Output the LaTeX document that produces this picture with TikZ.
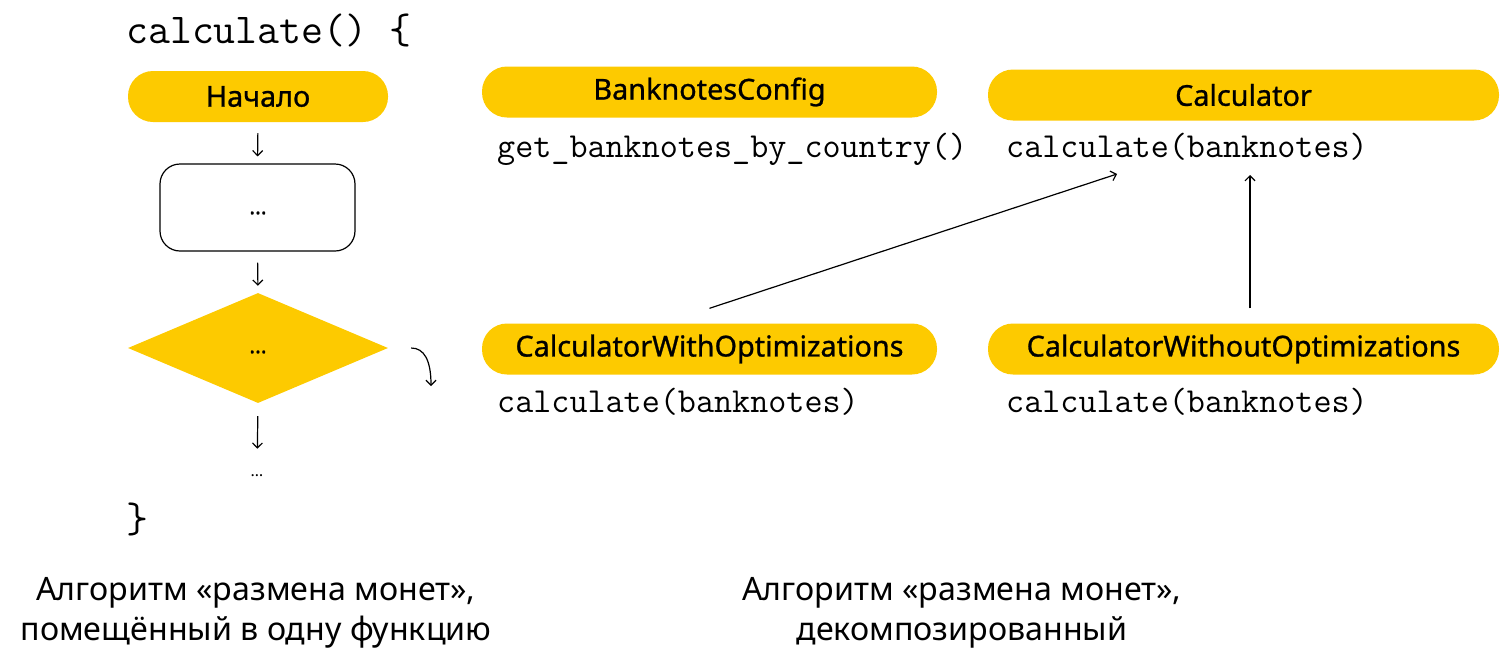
\documentclass[tikz,border=0pt]{standalone}
\usepackage{fontspec}
\setmainfont{Noto Sans}
\usetikzlibrary{shapes.geometric,arrows.meta,calc}
\definecolor{ya}{HTML}{FDCA00}
\tikzset{
  pill/.style={fill=ya, rectangle, rounded corners=25pt, minimum height=51pt, inner sep=0pt,
    font=\fontsize{28.8}{30}\selectfont\addfontfeatures{FakeBold=0.9}},
  code/.style={anchor=base west, inner sep=0pt, font=\ttfamily\fontsize{35.1}{37}\selectfont},
  arr/.style={-{Straight Barb[length=5pt,width=10pt]}, line width=1.2pt, black},
  dots/.style={inner sep=0pt, font=\fontsize{22}{24}\selectfont\addfontfeatures{FakeBold=1}},
  caption/.style={align=center, inner sep=0pt, font=\fontsize{32.2}{39.5}\selectfont}
}
\begin{document}
\begin{tikzpicture}[x=1pt,y=-1pt]
\useasboundingbox (0,0) rectangle (1500,670);
% left flowchart
\node[code, font=\ttfamily\fontsize{42.6}{45}\selectfont] (fn) at (126,43) {calculate() \{};
\node[pill, minimum width=260pt] (start) at (258,96.5) {Начало};
\node[draw, line width=1.2pt, rounded corners=20pt, minimum width=195pt, minimum height=87pt, inner sep=0pt] (box) at (257.5,207.5) {};
\node[dots] (boxdots) at (258,213) {…};
\node[diamond, fill=ya, minimum width=260pt, minimum height=110pt, inner sep=0pt] (dia) at (258,348) {};
\node[dots] (diadots) at (258,352) {…};
\node[dots, font=\fontsize{16}{18}\selectfont] (enddots) at (257,476) {…};
\node[code, font=\ttfamily\fontsize{42.6}{45}\selectfont] (close) at (126,532) {\}};
\draw[arr, shorten <=11pt, shorten >=7pt] (start.south) -- (box.north);
\draw[arr, shorten <=11pt, shorten >=7pt] (box.south) -- (dia.north);
\draw[arr, shorten <=13pt, shorten >=26pt] (dia.south) -- (enddots.north);
\coordinate (cs) at ($(dia.east)+(23,0)$);
\coordinate (ce) at (431,386);
\draw[arr] (cs) .. controls (424,348) and (431,360) .. (ce);
% right part
\node[pill, minimum width=455pt] (bc) at (709.5,92) {BanknotesConfig};
\node[code] (bccode) at (497,157) {get\_banknotes\_by\_country()};
\node[pill, minimum width=511pt] (calc) at (1243.5,95) {Calculator};
\node[code] (calccode) at (1006,157) {calculate(banknotes)};
\node[pill, minimum width=455pt] (cwo) at (709.5,349) {CalculatorWithOptimizations};
\node[code] (cwocode) at (497,412) {calculate(banknotes)};
\node[pill, minimum width=511pt] (cwoo) at (1243.5,349) {CalculatorWithoutOptimizations};
\node[code] (cwoocode) at (1006,412) {calculate(banknotes)};
\coordinate (t1) at (1117,174);
\coordinate (t2) at (1250,175);
\draw[arr] ($(cwo.north)+(0,-15)$) -- (t1);
\draw[arr] ($(t2 |- cwoo.north)+(0,-15)$) -- (t2);
% captions
\node[caption] (capl) at (256,613) {Алгоритм «размена монет»,\\помещённый в одну функцию};
\node[caption] (capr) at (962,613) {Алгоритм «размена монет»,\\декомпозированный};
\end{tikzpicture}
\end{document}
